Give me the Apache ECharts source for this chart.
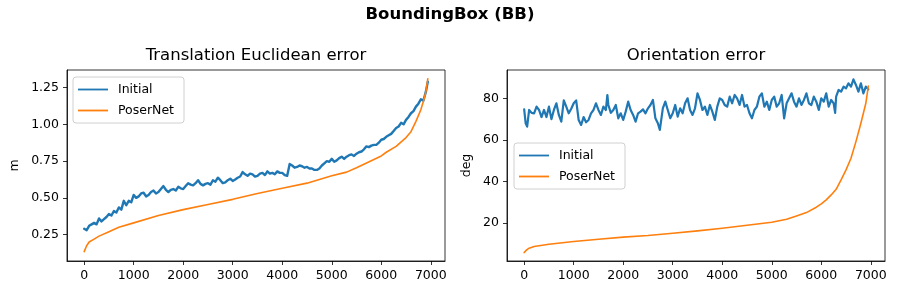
<!DOCTYPE html>
<html>
<head>
<meta charset="utf-8">
<script src="https://cdn.jsdelivr.net/npm/echarts@6/dist/echarts.min.js"></script>
<style>
html,body{margin:0;padding:0;background:#fff;}
#chart{width:900px;height:300px;}
</style>
</head>
<body>
<div id="chart"></div>
<script>
// ---------- data ----------
const figTitle = 'BoundingBox (BB)';
const leftTitle = 'Translation Euclidean error';
const rightTitle = 'Orientation error';
const seriesNames = ['Initial', 'PoserNet'];

const xTicks = [0, 1000, 2000, 3000, 4000, 5000, 6000, 7000];
const leftYTicks = [0.25, 0.50, 0.75, 1.00, 1.25];
const rightYTicks = [20, 40, 60, 80];

// Translation – Initial
const transInitX = [0,50,100,150,200,250,300,350,400,450,500,550,600,650,700,750,800,850,900,950,
  1000,1050,1100,1150,1200,1250,1300,1350,1400,1450,1500,1550,1600,1650,1700,1750,1800,1850,1900,1950,
  2000,2050,2100,2150,2200,2250,2300,2350,2400,2450,2500,2550,2600,2650,2700,2750,2800,2850,2900,2950,
  3000,3050,3100,3150,3200,3250,3300,3350,3400,3450,3500,3550,3600,3650,3700,3750,3800,3850,3900,3950,
  4000,4050,4100,4150,4200,4250,4300,4350,4400,4450,4500,4550,4600,4650,4700,4750,4800,4850,4900,4950,
  5000,5050,5100,5150,5200,5250,5300,5350,5400,5450,5500,5550,5600,5650,5700,5750,5800,5850,5900,5950,
  6000,6050,6100,6150,6200,6250,6300,6350,6400,6450,6500,6550,6600,6650,6700,6750,6800,6850,6900,6940];
const transInitY = [0.29,0.28,0.31,0.32,0.33,0.32,0.36,0.34,0.355,0.37,0.39,0.38,0.41,0.40,0.435,0.42,0.48,0.45,0.48,0.47,
  0.52,0.50,0.51,0.53,0.535,0.51,0.52,0.54,0.55,0.53,0.54,0.56,0.58,0.555,0.54,0.555,0.56,0.55,0.575,0.565,
  0.56,0.58,0.60,0.59,0.585,0.60,0.62,0.595,0.585,0.595,0.60,0.59,0.62,0.61,0.637,0.62,0.60,0.605,0.62,0.63,
  0.615,0.625,0.637,0.645,0.675,0.66,0.65,0.665,0.66,0.645,0.65,0.665,0.67,0.655,0.68,0.665,0.67,0.66,0.68,0.67,
  0.67,0.655,0.65,0.73,0.72,0.705,0.71,0.72,0.715,0.705,0.71,0.70,0.70,0.69,0.69,0.70,0.72,0.735,0.75,0.745,
  0.765,0.745,0.755,0.77,0.78,0.765,0.78,0.79,0.795,0.785,0.80,0.81,0.815,0.83,0.85,0.845,0.855,0.86,0.86,0.875,
  0.895,0.90,0.915,0.925,0.935,0.955,0.975,0.985,1.01,1.00,1.03,1.05,1.075,1.09,1.12,1.14,1.17,1.16,1.22,1.29];

// Translation – PoserNet
const transPoseX = [0,50,100,200,300,500,700,1000,1500,2000,2500,3000,3500,4000,4500,5000,5300,5500,6000,6100,6300,6500,6600,6700,6800,6850,6900,6940];
const transPoseY = [0.135,0.175,0.20,0.22,0.24,0.27,0.30,0.33,0.38,0.42,0.455,0.49,0.53,0.565,0.60,0.65,0.675,0.705,0.785,0.81,0.85,0.91,0.95,1.02,1.10,1.155,1.22,1.31];

// Orientation – Initial
const orientInitX = [0,30,60,100,150,200,250,300,350,400,450,500,550,600,650,700,750,800,850,900,950,
  1000,1050,1100,1150,1200,1250,1300,1350,1400,1450,1500,1550,1600,1650,1680,1700,1750,1800,1850,1900,1950,
  2000,2050,2100,2150,2200,2250,2300,2350,2400,2450,2500,2550,2600,2650,2700,2740,2800,2850,2900,2950,
  3000,3050,3100,3150,3200,3250,3300,3350,3400,3450,3500,3550,3600,3650,3700,3750,3800,3850,3900,3950,
  4000,4050,4100,4150,4200,4250,4300,4350,4400,4450,4500,4550,4600,4650,4700,4750,4800,4850,4900,4950,
  5000,5050,5100,5150,5200,5250,5300,5350,5400,5450,5500,5550,5600,5650,5700,5750,5800,5850,5900,5950,
  6000,6050,6100,6150,6200,6250,6280,6300,6350,6400,6450,6500,6550,6600,6650,6700,6750,6800,6850,6900,6950];
const orientInitY = [74.7,68,66.4,74.4,73,72.8,76,74.4,71,74.4,71,76,70,74.4,77.6,72,68.8,79,76,72.8,75,
  77.6,79,69.6,67.2,71,68.5,69.6,72.8,74.4,77.6,74.4,72,76,74.4,81.6,76.8,73,74.4,76.8,70.4,72.8,
  69.6,73.6,78.4,74.4,72,68.8,72.8,73.6,74.7,72.8,75.2,76.8,79.2,70.4,68,64.8,75.2,78.4,74.4,70.4,
  72.8,76.8,71.2,75.2,72.8,77.6,80,74.4,72,75.2,82.4,79.2,74.4,76,72,76.8,73.6,69.6,76,80,
  79.2,76.8,76,80.8,77.6,81.6,80,76.8,81.6,76,76.8,72.8,70.4,74.4,76,80.8,82.4,76,78.4,74.4,
  79.2,80.8,76,77.6,81.6,70.4,77.6,80,82.4,78.4,76,80,76.8,79.2,82.4,77.6,76.8,80.8,78.4,74.4,
  80,78.4,82.4,76,79.2,77.6,73,80.8,84,83.2,85.6,84.8,87.2,85.6,89.1,86.4,83.2,87.2,82.4,85.6,84.3];

// Orientation – PoserNet
const orientPoseX = [0,50,100,200,500,1000,1500,2000,2500,3000,3500,4000,4500,5000,5300,5500,5700,5900,6000,6100,6200,6300,6400,6500,6600,6700,6800,6900,6950];
const orientPoseY = [5.9,7.2,8.0,8.8,9.9,11.2,12.3,13.3,14.1,15.2,16.3,17.6,19.0,20.5,21.9,23.5,25.1,27.7,29.3,31.2,33.6,36.3,40.8,45.6,51.2,59.2,68,77.6,85.9];

// ---------- chart ----------
const FONT = 'DejaVu Sans';
const BLUE = '#1f77b4', ORANGE = '#ff7f0e';
const zip = (xs, ys) => xs.map((x, i) => [x, ys[i]]);

function xAxisCfg(gi) {
  return {
    type: 'value', gridIndex: gi, min: -347, max: 7287,
    axisLine: { show: true, onZero: false, lineStyle: { color: '#000', width: 0.8 } },
    axisTick: { show: true, length: 4, customValues: xTicks, lineStyle: { color: '#000', width: 0.8 } },
    axisLabel: { customValues: xTicks, color: '#000', fontSize: 12.5, fontFamily: FONT, margin: 8,
                 formatter: v => String(Math.round(v)) },
    splitLine: { show: false }
  };
}
function yAxisCfg(gi, min, max, ticks, fmt, name, gap) {
  return {
    type: 'value', gridIndex: gi, min: min, max: max,
    name: name, nameLocation: 'middle', nameGap: gap,
    nameTextStyle: { color: '#000', fontSize: 12.5, fontFamily: FONT },
    axisLine: { show: true, onZero: false, lineStyle: { color: '#000', width: 0.8 } },
    axisTick: { show: true, length: 4, customValues: ticks, lineStyle: { color: '#000', width: 0.8 } },
    axisLabel: { customValues: ticks, color: '#000', fontSize: 12.5, fontFamily: FONT, margin: 8, formatter: fmt },
    splitLine: { show: false }
  };
}
function legendCfg(left, top) {
  return {
    left: left, top: top, orient: 'vertical',
    data: seriesNames,
    icon: 'rect', itemWidth: 30, itemHeight: 1.8, itemGap: 6,
    padding: [5, 10, 5, 5],
    borderColor: '#d0d0d0', borderWidth: 1, borderRadius: 3,
    backgroundColor: 'rgba(255,255,255,0.8)',
    textStyle: { color: '#000', fontSize: 12.5, fontFamily: FONT, lineHeight: 15, padding: [0, 0, 0, 5] },
    selectedMode: false
  };
}
function lineSeries(name, color, xi, data, w) {
  return {
    type: 'line', name: name, xAxisIndex: xi, yAxisIndex: xi,
    data: data, showSymbol: false, symbol: 'none',
    lineStyle: { color: color, width: w, join: 'round', cap: 'round' }, itemStyle: { color: color },
    animation: false
  };
}

const chart = echarts.init(document.getElementById('chart'), null, { renderer: 'canvas' });
chart.setOption({
  animation: false,
  backgroundColor: '#fff',
  textStyle: { fontFamily: FONT },
  title: [
    { text: figTitle, left: 450, top: 6, textAlign: 'center', padding: 0,
      textStyle: { fontSize: 16.5, fontWeight: 'bold', color: '#000', fontFamily: FONT, lineHeight: 17 } },
    { text: leftTitle, left: 256, top: 47, textAlign: 'center', padding: 0,
      textStyle: { fontSize: 16.5, fontWeight: 'normal', color: '#000', fontFamily: FONT, lineHeight: 17 } },
    { text: rightTitle, left: 696, top: 47, textAlign: 'center', padding: 0,
      textStyle: { fontSize: 16.5, fontWeight: 'normal', color: '#000', fontFamily: FONT, lineHeight: 17 } }
  ],
  grid: [
    { left: 67, top: 70, width: 378, height: 191, show: true, borderColor: '#000', borderWidth: 0.8, backgroundColor: 'transparent', containLabel: false },
    { left: 507, top: 70, width: 378, height: 191, show: true, borderColor: '#000', borderWidth: 0.8, backgroundColor: 'transparent', containLabel: false }
  ],
  xAxis: [xAxisCfg(0), xAxisCfg(1)],
  yAxis: [
    yAxisCfg(0, 0.071, 1.369, leftYTicks, v => v.toFixed(2), 'm', 46),
    yAxisCfg(1, 1.85, 93.6, rightYTicks, v => String(Math.round(v)), 'deg', 34)
  ],
  legend: [legendCfg(73, 77), legendCfg(514, 143)],
  series: [
    lineSeries(seriesNames[0], BLUE, 0, zip(transInitX, transInitY), 2.4),
    lineSeries(seriesNames[1], ORANGE, 0, zip(transPoseX, transPoseY), 1.6),
    lineSeries(seriesNames[0], BLUE, 1, zip(orientInitX, orientInitY), 2.2),
    lineSeries(seriesNames[1], ORANGE, 1, zip(orientPoseX, orientPoseY), 1.6)
  ]
});
</script>
</body>
</html>
